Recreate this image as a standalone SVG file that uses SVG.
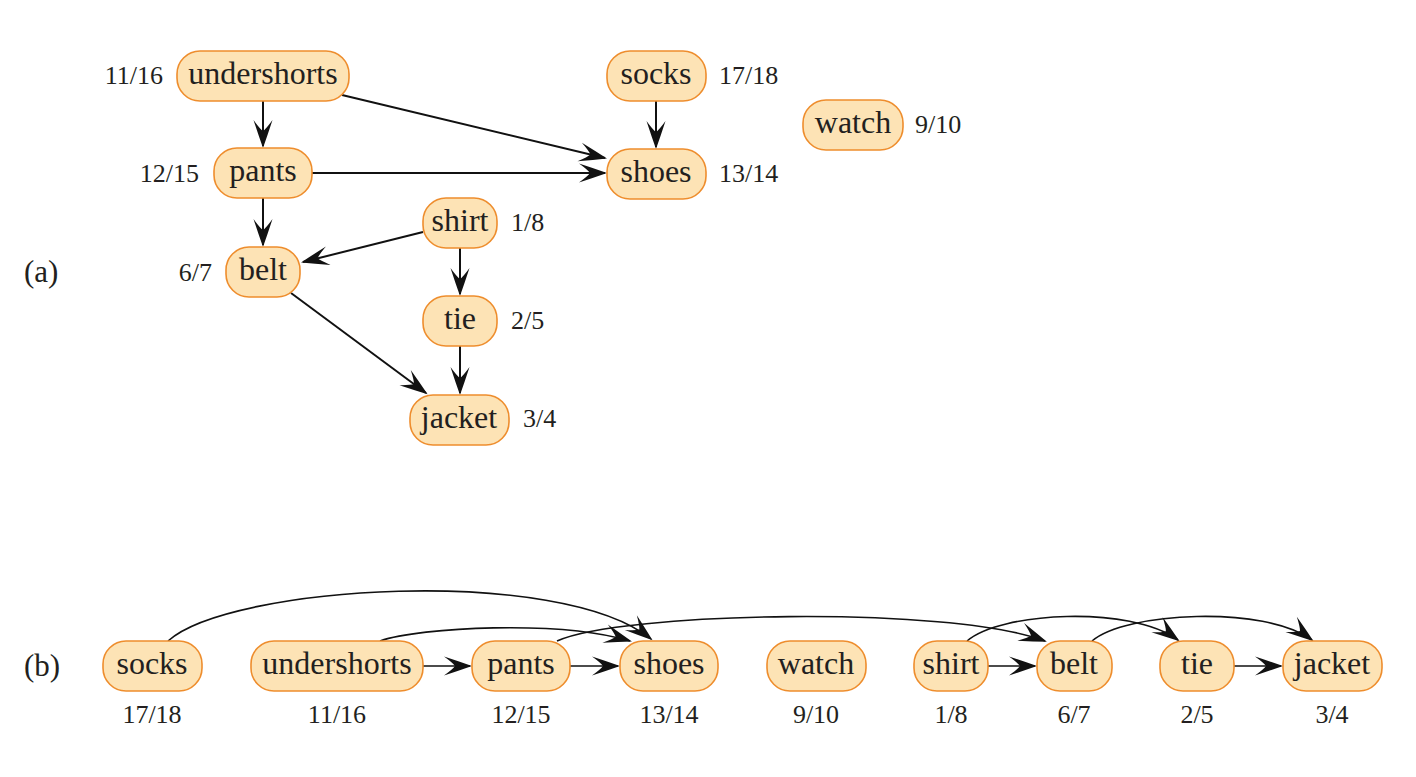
<svg xmlns="http://www.w3.org/2000/svg" width="1416" height="777" viewBox="0 0 1416 777">
  <style>
    text { font-family: 'Liberation Serif', 'Times New Roman', serif; fill: #231f20; }
    .node rect { fill: #fde3b5; stroke: #ee8d2d; stroke-width: 1.6; }
    .node text { font-size: 32px; text-anchor: middle; }
    .lbl { font-size: 26px; }
    .cap { font-size: 31px; }
    .edge { fill: none; stroke: #111; stroke-width: 2; marker-end: url(#head); }
    .edgeb { fill: none; stroke: #111; stroke-width: 1.6; marker-end: url(#head); }
  </style>
  <defs>
    <!-- barbed arrowhead, tip 2px past the path end -->
    <marker id="head" markerUnits="userSpaceOnUse" markerWidth="50" markerHeight="50" refX="0" refY="0" orient="auto" viewBox="-35 -25 50 50" overflow="visible">
      <path d="M2,0 Q-11,-4.6 -26,-9.5 Q-17,-3 -15,0 Q-17,3 -26,9.5 Q-11,4.6 2,0 Z" fill="#111"/>
    </marker>
  </defs>

  <!-- captions -->
  <text class="cap" x="24" y="282">(a)</text>
  <text class="cap" x="24" y="676">(b)</text>

  <!-- part (a) connectors -->
  <g id="edges-a">
    <line class="edge" x1="263" y1="101" x2="263" y2="146"/>
    <line class="edge" x1="342" y1="95" x2="605" y2="158"/>
    <line class="edge" x1="312" y1="173" x2="605" y2="173"/>
    <line class="edge" x1="656" y1="101" x2="656" y2="147"/>
    <line class="edge" x1="263" y1="198" x2="263" y2="245"/>
    <line class="edge" x1="423" y1="232" x2="303" y2="262"/>
    <line class="edge" x1="460" y1="248" x2="460" y2="294"/>
    <line class="edge" x1="291" y1="293" x2="426" y2="393"/>
    <line class="edge" x1="460" y1="346" x2="460" y2="393"/>
  </g>

  <!-- part (a) nodes -->
  <g id="a-undershorts" class="node"><rect x="177" y="51" width="172" height="50" rx="23"/><text x="263" y="84">undershorts</text></g>
  <g id="a-pants" class="node"><rect x="214" y="148" width="98" height="50" rx="23"/><text x="263" y="181">pants</text></g>
  <g id="a-socks" class="node"><rect x="607" y="51" width="99" height="50" rx="23"/><text x="656" y="84">socks</text></g>
  <g id="a-shoes" class="node"><rect x="607" y="149" width="99" height="50" rx="23"/><text x="656" y="182">shoes</text></g>
  <g id="a-watch" class="node"><rect x="803" y="100" width="100" height="50" rx="23"/><text x="853" y="133">watch</text></g>
  <g id="a-shirt" class="node"><rect x="423" y="198" width="74" height="50" rx="23"/><text x="460" y="231">shirt</text></g>
  <g id="a-belt" class="node"><rect x="226" y="247" width="74" height="50" rx="23"/><text x="263" y="280">belt</text></g>
  <g id="a-tie" class="node"><rect x="423" y="296" width="74" height="50" rx="23"/><text x="460" y="329">tie</text></g>
  <g id="a-jacket" class="node"><rect x="410" y="395" width="99" height="50" rx="23"/><text x="459" y="428">jacket</text></g>

  <!-- part (a) discovery/finish times -->
  <g id="times-a">
    <text class="lbl" x="163" y="84" text-anchor="end">11/16</text>
    <text class="lbl" x="199" y="182" text-anchor="end">12/15</text>
    <text class="lbl" x="719" y="84">17/18</text>
    <text class="lbl" x="719" y="182">13/14</text>
    <text class="lbl" x="915" y="133">9/10</text>
    <text class="lbl" x="511" y="231">1/8</text>
    <text class="lbl" x="212" y="281" text-anchor="end">6/7</text>
    <text class="lbl" x="511" y="329">2/5</text>
    <text class="lbl" x="523" y="427">3/4</text>
  </g>

  <!-- part (b) connectors -->
  <g id="edges-b">
    <path class="edgeb" d="M168,641 C230,585 560,565 651,639"/>
    <path class="edgeb" d="M380,641 C420,627 560,620 630,641"/>
    <path class="edgeb" d="M557,641 C620,612 950,605 1045,641"/>
    <path class="edgeb" d="M967,641 C1000,612 1130,605 1178,640"/>
    <path class="edgeb" d="M1092,641 C1125,612 1265,605 1312,640"/>
    <line class="edgeb" x1="423" y1="666" x2="470" y2="666"/>
    <line class="edgeb" x1="570" y1="666" x2="618" y2="666"/>
    <line class="edgeb" x1="988" y1="666" x2="1035" y2="666"/>
    <line class="edgeb" x1="1234" y1="666" x2="1281" y2="666"/>
  </g>

  <!-- part (b) nodes in topological order -->
  <g id="b-socks" class="node"><rect x="103" y="641" width="99" height="50" rx="23"/><text x="152" y="674">socks</text></g>
  <g id="b-undershorts" class="node"><rect x="251" y="641" width="172" height="50" rx="23"/><text x="337" y="674">undershorts</text></g>
  <g id="b-pants" class="node"><rect x="472" y="641" width="98" height="50" rx="23"/><text x="521" y="674">pants</text></g>
  <g id="b-shoes" class="node"><rect x="620" y="641" width="98" height="50" rx="23"/><text x="669" y="674">shoes</text></g>
  <g id="b-watch" class="node"><rect x="767" y="641" width="99" height="50" rx="23"/><text x="816" y="674">watch</text></g>
  <g id="b-shirt" class="node"><rect x="914" y="641" width="74" height="50" rx="23"/><text x="951" y="674">shirt</text></g>
  <g id="b-belt" class="node"><rect x="1037" y="641" width="75" height="50" rx="23"/><text x="1074" y="674">belt</text></g>
  <g id="b-tie" class="node"><rect x="1160" y="641" width="74" height="50" rx="23"/><text x="1197" y="674">tie</text></g>
  <g id="b-jacket" class="node"><rect x="1283" y="641" width="99" height="50" rx="23"/><text x="1332" y="674">jacket</text></g>

  <!-- part (b) times -->
  <g id="times-b" text-anchor="middle">
    <text class="lbl" x="152" y="723">17/18</text>
    <text class="lbl" x="337" y="723">11/16</text>
    <text class="lbl" x="521" y="723">12/15</text>
    <text class="lbl" x="669" y="723">13/14</text>
    <text class="lbl" x="816" y="723">9/10</text>
    <text class="lbl" x="951" y="723">1/8</text>
    <text class="lbl" x="1074" y="723">6/7</text>
    <text class="lbl" x="1197" y="723">2/5</text>
    <text class="lbl" x="1332" y="723">3/4</text>
  </g>
</svg>
